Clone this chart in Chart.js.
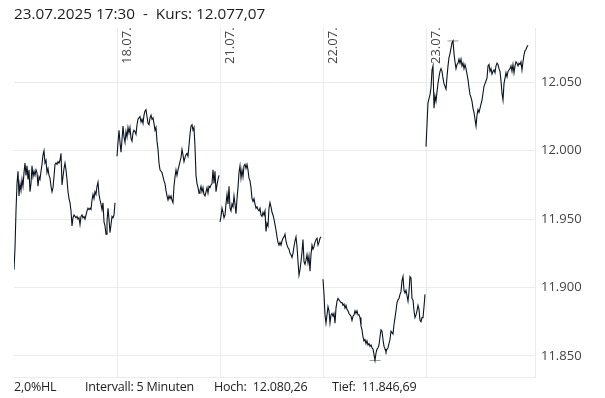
<!DOCTYPE html>
<html lang="de">
<head>
<meta charset="utf-8">
<title>Kursverlauf</title>
<script src="https://cdn.jsdelivr.net/npm/chart.js@4/dist/chart.umd.min.js"></script>
<style>
  html, body { margin: 0; padding: 0; background: #fff; }
  #wrap { position: relative; width: 605px; height: 398px; font-family: "Open Sans", sans-serif; color: #1c1c1c; }
  #chart { position: absolute; left: 0; top: 0; }
  #titel { position: absolute; left: 14px; top: 3px; font-size: 15.3px; white-space: pre; }
  .fuss { position: absolute; top: 378px; font-size: 12.5px; white-space: pre; color: #222; letter-spacing: -0.2px; }
</style>
</head>
<body>
<div id="wrap">
  <canvas id="chart" width="605" height="398"></canvas>
  <div id="titel"></div>
  <div class="fuss" id="f1" style="left:14px"></div>
  <div class="fuss" id="f2" style="left:85px"></div>
  <div class="fuss" id="f3" style="left:214px"></div>
  <div class="fuss" id="f4" style="left:332px"></div>
</div>
<script>
// Handelstage (Gitterlinie jeweils am Tagesbeginn)
const tage = ['17.07.', '18.07.', '21.07.', '22.07.', '23.07.'];
const slotsProTag = 103; // 5-Minuten-Intervalle 9:00 - 17:30

// Kurse je Tag, 5-Minuten-Werte
const kurs17 = [11913, 11929, 11956, 11976, 11985, 11967, 11976, 11971, 11979, 11974, 11984, 11991, 11982, 11989, 11979,
  11986, 11970, 11976, 11989, 11981, 11985, 11982, 11986, 11984, 11974, 11981, 11979, 11985, 11990, 11997, 12000,
  11991, 11993, 11984, 11987, 11982, 11980, 11974, 11970, 11973, 11981, 11990, 11991, 11990, 11992, 11991, 11993,
  11998, 11975, 11981, 11987, 11991, 11986, 11979, 11970, 11965, 11962, 11956, 11945, 11951, 11953, 11952, 11951,
  11952, 11950, 11951, 11946, 11952, 11953, 11951, 11952, 11950, 11953, 11956, 11958, 11957, 11958, 11957, 11964,
  11968, 11965, 11970, 11968, 11974, 11977, 11968, 11964, 11961, 11957, 11962, 11948, 11945, 11939, 11948, 11958,
  11950, 11940, 11946, 11952, 11951, 11953, 11962];
const kurs18 = [11996, 12006, 12015, 12006, 11999, 12008, 12018, 12010, 12006, 12014, 12010, 12017, 12013, 12017, 12009,
  12007, 12013, 12015, 12014, 12012, 12019, 12023, 12024, 12025, 12021, 12023, 12020, 12026, 12029, 12030, 12025,
  12020, 12019, 12024, 12026, 12023, 12024, 12020, 12015, 12017, 12007, 12001, 11991, 11986, 11985, 11984, 11981,
  11978, 11976, 11971, 11967, 11964, 11967, 11965, 11967, 11964, 11962, 11974, 11981, 11986, 11982, 11986, 11989,
  11992, 11995, 12001, 11997, 11992, 11995, 11997, 11998, 11996, 12004, 12012, 12018, 12019, 12015, 12017, 12003,
  11982, 11976, 11973, 11969, 11971, 11974, 11970, 11973, 11968, 11967, 11970, 11973, 11969, 11974, 11973, 11975,
  11976, 11986, 11976, 11985, 11970, 11975, 11979, 11982];
const kurs21 = [11948, 11952, 11958, 11955, 11951, 11953, 11961, 11968, 11961, 11974, 11958, 11956, 11961, 11959, 11967,
  11961, 11954, 11965, 11973, 11984, 11989, 11980, 11986, 11981, 11989, 11990, 11987, 11990, 11986, 11980, 11978,
  11973, 11965, 11963, 11965, 11961, 11958, 11959, 11957, 11956, 11958, 11953, 11952, 11955, 11953, 11956, 11941,
  11947, 11945, 11958, 11962, 11959, 11955, 11953, 11950, 11946, 11942, 11937, 11933, 11931, 11933, 11931, 11934,
  11936, 11937, 11939, 11934, 11931, 11929, 11928, 11925, 11924, 11922, 11925, 11930, 11934, 11937, 11930, 11919,
  11909, 11913, 11919, 11926, 11935, 11919, 11917, 11920, 11924, 11918, 11923, 11912, 11924, 11931, 11928, 11930,
  11933, 11935, 11936, 11931, 11933, 11936, 11937];
const kurs22 = [11906, 11895, 11880, 11874, 11880, 11886, 11883, 11874, 11880, 11881, 11879, 11881, 11874, 11885, 11890,
  11892, 11891, 11890, 11889, 11889, 11887, 11888, 11885, 11887, 11884, 11883, 11881, 11880, 11879, 11876, 11879,
  11880, 11883, 11881, 11883, 11880, 11880, 11878, 11872, 11869, 11864, 11861, 11862, 11859, 11861, 11858, 11859,
  11857, 11858, 11856, 11855, 11851, 11846.69, 11852, 11855, 11856, 11858, 11864, 11869, 11868, 11862, 11857, 11855,
  11853, 11855, 11856, 11859, 11862, 11868, 11867, 11866, 11873, 11878, 11883, 11889, 11891, 11892, 11895, 11897,
  11905, 11908, 11898, 11896, 11898, 11894, 11890, 11897, 11908, 11907, 11892, 11891, 11883, 11878, 11880, 11883,
  11887, 11884, 11876, 11875, 11878, 11878, 11886, 11895];
const kurs23 = [12003, 12019, 12035, 12038, 12041, 12046, 12059, 12062, 12031, 12040, 12036, 12043, 12049, 12054, 12058,
  12060, 12058, 12053, 12049, 12047, 12045, 12054, 12062, 12068, 12071, 12075, 12079, 12080.26, 12071, 12065, 12060,
  12063, 12064, 12067, 12064, 12067, 12062, 12064, 12060, 12063, 12060, 12056, 12052, 12046, 12041, 12039, 12036,
  12031, 12028, 12023, 12018, 12026, 12030, 12028, 12031, 12034, 12037, 12042, 12047, 12049, 12051, 12053, 12062,
  12063, 12058, 12060, 12056, 12058, 12059, 12057, 12062, 12064, 12063, 12060, 12058, 12051, 12042, 12037, 12049,
  12053, 12057, 12054, 12058, 12059, 12060, 12062, 12058, 12063, 12057, 12062, 12065, 12064, 12062, 12064, 12063,
  12065, 12059, 12065, 12070, 12073, 12074, 12076, 12077.07];

const yTicks = [11850, 11900, 11950, 12000, 12050];
const hoch = 12080.26;
const tief = 11846.69;
const kurs = 12077.07;

function fmt(v, d) {
  // deutsches Zahlenformat
  return v.toLocaleString('de-DE', { minimumFractionDigits: d, maximumFractionDigits: d });
}

document.getElementById('titel').textContent = '23.07.2025 17:30  -  Kurs: ' + fmt(kurs, 2);
document.getElementById('f1').textContent = '2,0%HL';
document.getElementById('f2').textContent = 'Intervall: 5 Minuten';
document.getElementById('f3').textContent = 'Hoch:  ' + fmt(hoch, 2);
document.getElementById('f4').textContent = 'Tief:  ' + fmt(tief, 2);

// Punkte aufbauen, Lücke (null) zwischen den Tagen
const alleTage = [kurs17, kurs18, kurs21, kurs22, kurs23];
const punkte = [];
let hochPunkt = null, tiefPunkt = null;
alleTage.forEach((werte, k) => {
  werte.forEach((v, i) => {
    const p = { x: k * slotsProTag + i, y: v };
    punkte.push(p);
    if (!hochPunkt || v > hochPunkt.y) hochPunkt = p;
    if (!tiefPunkt || v < tiefPunkt.y) tiefPunkt = p;
  });
  punkte.push({ x: k * slotsProTag + werte.length, y: null });
});

const gridFarbe = '#ebebeb';

const tagLabels = {
  id: 'tagLabels',
  afterDraw(chart) {
    const ctx = chart.ctx;
    const xs = chart.scales.x;
    ctx.save();
    ctx.font = '13px "Open Sans"';
    ctx.fillStyle = '#444';
    ctx.textAlign = 'left';
    ctx.textBaseline = 'alphabetic';
    tage.forEach((t, k) => {
      if (k === 0) return;
      const px = xs.getPixelForValue(k * slotsProTag);
      ctx.save();
      ctx.translate(px + 14, 64);
      ctx.rotate(-Math.PI / 2);
      ctx.fillText(t, 0, 0);
      ctx.restore();
    });
    ctx.restore();
  }
};

new Chart(document.getElementById('chart'), {
  type: 'line',
  data: {
    datasets: [{
      data: punkte,
      borderColor: '#0a1420',
      borderWidth: 1.1,
      pointRadius: 0,
      tension: 0,
      spanGaps: false
    }, {
      data: [hochPunkt, tiefPunkt].map(p => ({ x: p.x, y: p.y })),
      showLine: false,
      pointStyle: 'line',
      pointRadius: 5.5,
      pointBorderColor: '#999',
      pointBorderWidth: 1,
      borderColor: '#999'
    }]
  },
  options: {
    responsive: false,
    devicePixelRatio: 1,
    animation: false,
    layout: { padding: { left: 14, right: 0, top: 28, bottom: 21 } },
    plugins: { legend: { display: false }, tooltip: { enabled: false } },
    scales: {
      x: {
        type: 'linear',
        min: 0,
        max: 521,
        afterBuildTicks(scale) {
          scale.ticks = tage.slice(1).map((t, k) => ({ value: (k + 1) * slotsProTag }));
        },
        afterFit(scale) { scale.height = 0; },
        ticks: { display: false },
        grid: { color: gridFarbe, drawTicks: false },
        border: { display: true, color: gridFarbe }
      },
      y: {
        position: 'right',
        min: 11834.6,
        max: 12089.7,
        afterBuildTicks(scale) {
          scale.ticks = yTicks.map(v => ({ value: v }));
        },
        afterFit(scale) { scale.width = 70; },
        ticks: {
          padding: 6,
          color: '#444',
          font: { family: 'Open Sans', size: 13 },
          callback: v => fmt(v, 0)
        },
        grid: { color: gridFarbe, drawTicks: false },
        border: { display: true, color: gridFarbe }
      }
    }
  },
  plugins: [tagLabels]
});
</script>
</body>
</html>
